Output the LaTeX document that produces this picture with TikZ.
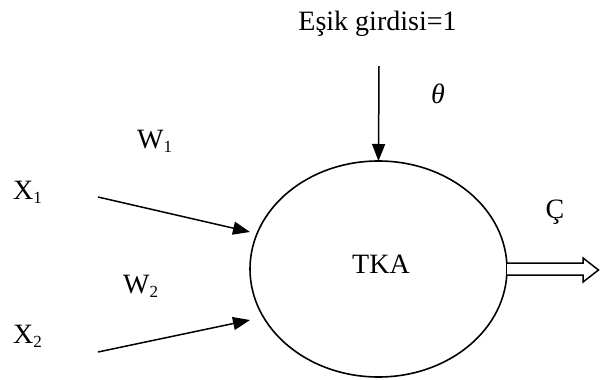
\documentclass[tikz,border=0pt]{standalone}
\usepackage{fontspec}
\setmainfont{Liberation Serif}
\usetikzlibrary{shapes.geometric,arrows.meta}
\newcommand{\sbs}[1]{\raisebox{-4pt}{\fontsize{17}{17}\selectfont #1}}
\tikzset{
  x=1pt, y=-1pt,
  lbl/.style={inner sep=0pt, anchor=base, font=\fontsize{28}{34}\selectfont},
  arr/.style={line width=1.5pt, -{Triangle[length=17pt,width=13pt]}},
  unit/.style={draw, line width=1.6pt, shape=ellipse, inner sep=0pt, outer sep=0pt,
    minimum width=257pt, minimum height=216pt},
  outarrow/.style={draw, line width=1.5pt, fill=white, line join=miter}
}
\begin{document}
\begin{tikzpicture}
\useasboundingbox (0,0) rectangle (600,380);
\node[unit] (tka) at (378.5,269) {};
\node[lbl] (tkalbl) at (381,273) {TKA};
\node[lbl] (esik) at (377.5,30) {Eşik girdisi=1};
\node[lbl, anchor=center] (theta) at (438,94) {\itshape θ};
\node[lbl, anchor=base west] (w1) at (137,148) {W\sbs{1}};
\node[lbl, anchor=base west] (x1) at (13,199) {X\sbs{1}};
\node[lbl, anchor=base west] (w2) at (123,293) {W\sbs{2}};
\node[lbl, anchor=base west] (x2) at (13,343) {X\sbs{2}};
\node[lbl] (c) at (555,218) {Ç};
\coordinate (thstart) at (379,66);
\coordinate (a1s) at (98,197);
\coordinate (a1e) at (250,232);
\coordinate (a2s) at (98,352);
\coordinate (a2e) at (250,320);
\draw[arr] (thstart) -- (tka.north);
\draw[arr] (a1s) -- (a1e);
\draw[arr] (a2s) -- (a2e);
\draw[outarrow] ([yshift=6pt]tka.east) -- (583,263) -- (583,258) -- (598.5,270) -- (583,282) -- (583,275) -- ([yshift=-6pt]tka.east);
\end{tikzpicture}
\end{document}
